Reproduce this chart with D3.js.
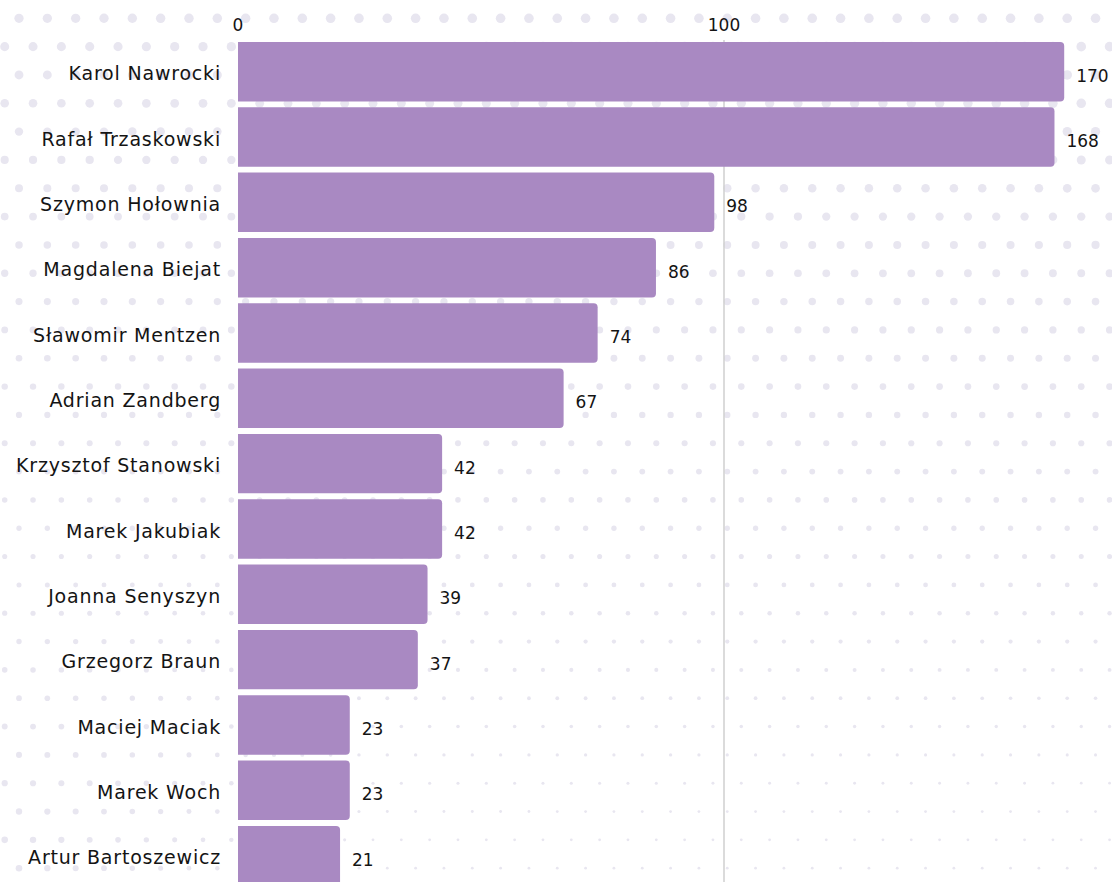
<!DOCTYPE html>
<html lang="pl">
<head>
<meta charset="UTF-8">
<title>Bar chart</title>
<script src="https://cdn.jsdelivr.net/npm/d3@7"></script>
<style>
  html, body { margin: 0; padding: 0; background: #fff; }
  svg { display: block; }
  text { font-family: "DejaVu Sans", "Noto Sans", sans-serif; fill: #141414; }
</style>
</head>
<body>
<svg id="viz"></svg>
<script>
// Data ---
const names = [
  "Karol Nawrocki", "Rafał Trzaskowski", "Szymon Hołownia", "Magdalena Biejat",
  "Sławomir Mentzen", "Adrian Zandberg", "Krzysztof Stanowski", "Marek Jakubiak",
  "Joanna Senyszyn", "Grzegorz Braun", "Maciej Maciak", "Marek Woch", "Artur Bartoszewicz"
];
const values = [170, 168, 98, 86, 74, 67, 42, 42, 39, 37, 23, 23, 21];
const tickValues = [0, 100];

// Dimensions ---
const width = 1112, height = 882;
const x0 = 238, x100 = 724;
const barTop = 39, step = 65.33;

const svg = d3.select('#viz')
  .attr('width', width)
  .attr('height', height);

// Dotted background ---
const dotGap = 28.33;
const dots = [];
for (let r = 0; r * dotGap + 18 < height + 10; r++) {
  for (let c = -1; c * dotGap < width + 10; c++) {
    const x = (r % 2 === 0 ? 19 : 4.7) + c * dotGap;
    const y = 18.3 + r * dotGap;
    dots.push({ x, y });
  }
}
function dotRadius(d) {
  // large at the top, shrinking downwards, bigger toward the right at top
  const ty = d.y / height;
  const tx = d.x / width;
  let rad = 4.7 - 3.4 * ty + 0.6 * tx * (1 - ty) - 0.4 * tx * ty;
  // bottom-left corner gets a little bigger again
  const dl = Math.hypot(d.x / width, (height - d.y) / height);
  rad += Math.max(0, 0.35 - dl) * 6;
  return Math.max(1.4, Math.min(4.8, rad));
}
svg.append('g')
  .selectAll('circle')
  .data(dots)
  .join('circle')
  .attr('cx', d => d.x)
  .attr('cy', d => d.y)
  .attr('r', dotRadius)
  .attr('fill', '#e8e6f0');

// Scales ---
const xScale = d3.scaleLinear()
  .domain([0, 100])
  .range([x0, x100]);

const yScale = d3.scaleBand()
  .domain(names)
  .range([barTop, barTop + step * names.length])
  .paddingInner(0.09)
  .paddingOuter(0.045);

// Gridlines ---
svg.append('g')
  .selectAll('line')
  .data(tickValues.filter(v => v > 0))
  .join('line')
  .attr('x1', d => xScale(d))
  .attr('x2', d => xScale(d))
  .attr('y1', 40)
  .attr('y2', height)
  .attr('stroke', '#cfcfcf')
  .attr('stroke-width', 1.5);

// Axis labels ---
svg.append('g')
  .selectAll('text')
  .data(tickValues)
  .join('text')
  .attr('x', d => xScale(d))
  .attr('y', 31)
  .attr('text-anchor', 'middle')
  .style('font-size', '17px')
  .text(d => d);

// Bars (rounded on the right only) ---
const rad = 4;
const rows = names.map((n, i) => ({ name: n, value: values[i] }));
svg.append('g')
  .selectAll('path')
  .data(rows)
  .join('path')
  .attr('fill', '#a989c2')
  .attr('d', d => {
    const xa = xScale(0), xb = xScale(d.value);
    const ya = yScale(d.name), yb = ya + yScale.bandwidth();
    return `M${xa},${ya} H${xb - rad} Q${xb},${ya} ${xb},${ya + rad} V${yb - rad} Q${xb},${yb} ${xb - rad},${yb} H${xa} Z`;
  });

// Category labels ---
svg.append('g')
  .selectAll('text')
  .data(rows)
  .join('text')
  .attr('x', 221)
  .attr('y', d => yScale(d.name) + yScale.bandwidth() / 2 + 2)
  .attr('dy', '0.35em')
  .attr('text-anchor', 'end')
  .style('font-size', '19px')
  .style('letter-spacing', '0.8px')
  .text(d => d.name);

// Value labels ---
svg.append('g')
  .selectAll('text')
  .data(rows)
  .join('text')
  .attr('x', d => xScale(d.value) + 12)
  .attr('y', d => yScale(d.name) + yScale.bandwidth() / 2 + 4)
  .attr('dy', '0.35em')
  .style('font-size', '17px')
  .text(d => d.value);
</script>
</body>
</html>
